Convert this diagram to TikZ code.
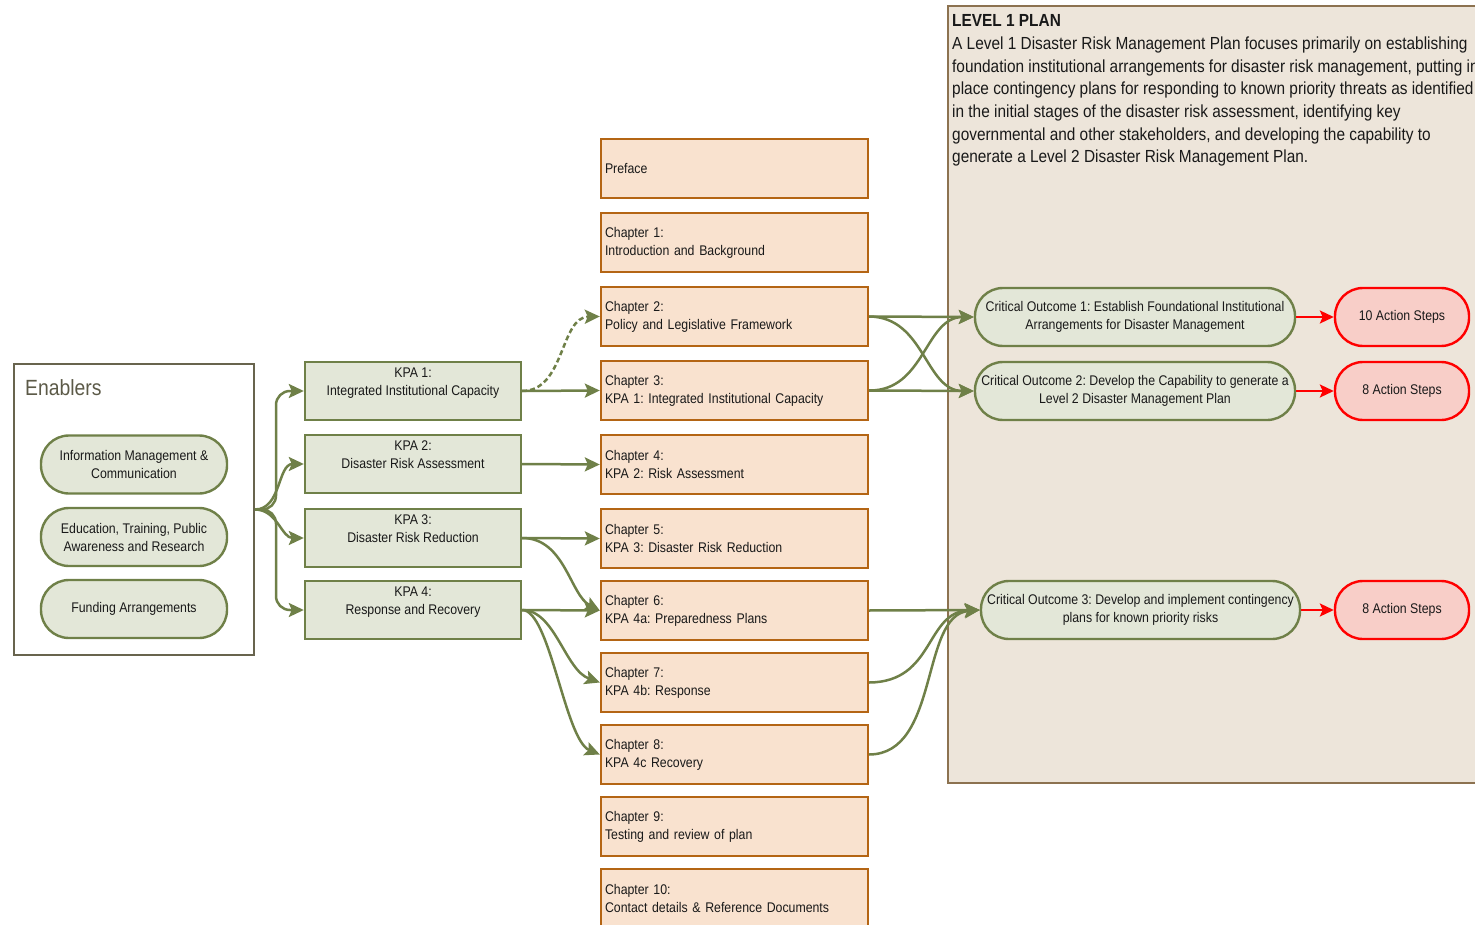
\documentclass[tikz,border=0pt]{standalone}
\usepackage{fontspec}
\setmainfont{Liberation Sans}[FakeStretch=0.88]
\usetikzlibrary{arrows.meta,calc}
\frenchspacing
\definecolor{gline}{RGB}{111,128,72}
\definecolor{sage}{RGB}{227,231,216}
\definecolor{peach}{RGB}{249,226,207}
\definecolor{chapline}{RGB}{180,101,20}
\definecolor{lvfill}{RGB}{237,229,218}
\definecolor{lvline}{RGB}{140,114,80}
\definecolor{enline}{RGB}{104,100,78}
\definecolor{entext}{RGB}{92,90,72}
\definecolor{actfill}{RGB}{248,206,200}
\definecolor{txt}{RGB}{25,25,25}
\begin{document}
\begin{tikzpicture}[x=1pt,y=-1pt,
 small/.style={font=\fontsize{14}{18}\selectfont, text=txt},
 chap/.style={small, rectangle, draw=chapline, fill=peach, line width=2.4pt, minimum height=59pt, text width=259pt, inner xsep=4pt, inner ysep=0pt, align=left},
 kpa/.style={small, rectangle, draw=gline, fill=sage, line width=2.4pt, minimum width=216pt, minimum height=58pt, inner sep=0pt, align=center},
 pill/.style={small, rectangle, rounded corners=28pt, draw=gline, fill=sage, line width=2.4pt, minimum height=58pt, inner sep=0pt, align=center},
 act/.style={small, rectangle, rounded corners=28pt, draw=red, fill=actfill, line width=2.4pt, minimum width=134pt, minimum height=58pt, inner sep=0pt, align=center},
 garrow/.style={draw=gline, line width=2.5pt, -{Stealth[length=15pt,width=14pt,inset=3pt]}},
 rarrow/.style={draw=red, line width=2.5pt, -{Stealth[length=14pt,width=13pt,inset=3pt]}},
]
\useasboundingbox (0,0) rectangle (1475,925);
\clip (0,0) rectangle (1475,925);

% Level 1 container
\node[draw=lvline, fill=lvfill, line width=2pt, minimum width=552pt, minimum height=777pt, inner sep=0pt] (level1) at (1224,394.5) {};
\node[anchor=north west, align=left, inner sep=0pt, text=txt, font=\fontsize{17.5}{22.7}\selectfont] (lvtext) at (952,14.5)
 {\textbf{LEVEL 1 PLAN}\\
 A Level 1 Disaster Risk Management Plan focuses primarily on establishing\\
 foundation institutional arrangements for disaster risk management, putting in\\
 place contingency plans for responding to known priority threats as identified\\
 in the initial stages of the disaster risk assessment, identifying key\\
 governmental and other stakeholders, and developing the capability to\\
 generate a Level 2 Disaster Risk Management Plan.};

% Enablers
\node[draw=enline, line width=2pt, minimum width=240pt, minimum height=291pt, inner sep=0pt] (enablers) at (134,509.5) {};
\node[anchor=west, inner sep=0pt, text=entext, font=\fontsize{22}{26}\selectfont] (entitle) at (25,388) {Enablers};
\node[pill, minimum width=186pt] (en1) at (134,464.5) {Information Management \&\\Communication};
\node[pill, minimum width=186pt] (en2) at (134,537) {Education, Training, Public\\Awareness and Research};
\node[pill, minimum width=186pt] (en3) at (134,609) {Funding Arrangements};

% KPAs
\node[kpa] (kpa1) at (413,391) {KPA 1:\\Integrated Institutional Capacity\\\mbox{}};
\node[kpa] (kpa2) at (413,464) {KPA 2:\\Disaster Risk Assessment\\\mbox{}};
\node[kpa] (kpa3) at (413,538) {KPA 3:\\Disaster Risk Reduction\\\mbox{}};
\node[kpa] (kpa4) at (413,610) {KPA 4:\\Response and Recovery\\\mbox{}};

% Chapters
\node[chap] (pre) at (734.5,168.5) {Preface};
\node[chap] (ch1) at (734.5,242.5) {Chapter 1:\\Introduction and Background};
\node[chap] (ch2) at (734.5,316.5) {Chapter 2:\\Policy and Legislative Framework};
\node[chap] (ch3) at (734.5,390.5) {Chapter 3:\\KPA 1: Integrated Institutional Capacity};
\node[chap] (ch4) at (734.5,464.5) {Chapter 4:\\KPA 2: Risk Assessment};
\node[chap] (ch5) at (734.5,538.5) {Chapter 5:\\KPA 3: Disaster Risk Reduction};
\node[chap] (ch6) at (734.5,610.5) {Chapter 6:\\KPA 4a: Preparedness Plans};
\node[chap] (ch7) at (734.5,682.5) {Chapter 7:\\KPA 4b: Response};
\node[chap] (ch8) at (734.5,754.5) {Chapter 8:\\KPA 4c Recovery};
\node[chap] (ch9) at (734.5,826.5) {Chapter 9:\\Testing and review of plan};
\node[chap] (ch10) at (734.5,898.5) {Chapter 10:\\Contact details \& Reference Documents};

% Critical outcomes
\node[pill, minimum width=320pt] (co1) at (1135,317) {Critical Outcome 1: Establish Foundational Institutional\\Arrangements for Disaster Management};
\node[pill, minimum width=320pt] (co2) at (1135,391) {Critical Outcome 2: Develop the Capability to generate a\\Level 2 Disaster Management Plan};
\node[pill, minimum width=319pt] (co3) at (1140.5,610) {Critical Outcome 3: Develop and implement contingency\\plans for known priority risks};

% Action steps
\node[act] (as1) at (1402,317) {10 Action Steps};
\node[act] (as2) at (1402,391) {8 Action Steps};
\node[act] (as3) at (1402,610) {8 Action Steps};

% Enablers -> KPAs
\draw[garrow, rounded corners=14pt] (enablers.east) -- ++(21,0) |- (kpa1.west);
\draw[garrow] (enablers.east) to[out=0,in=180] (kpa2.west);
\draw[garrow] (enablers.east) to[out=0,in=180] (kpa3.west);
\draw[garrow, rounded corners=14pt] (enablers.east) -- ++(21,0) |- (kpa4.west);

% KPAs -> chapters
\draw[garrow] (kpa1.east) -- (ch3.west);
\draw[garrow, dash pattern=on 5pt off 3pt] (kpa1.east) .. controls (565,391) and (560,317) .. (ch2.west);
\draw[garrow] (kpa2.east) -- (ch4.west);
\draw[garrow] (kpa3.east) -- (ch5.west);
\draw[garrow] (kpa3.east) .. controls (565,538) and (570,595) .. (ch6.west);
\draw[garrow] (kpa4.east) -- (ch6.west);
\draw[garrow] (kpa4.east) .. controls (555,610) and (565,670) .. (ch7.west);
\draw[garrow] (kpa4.east) .. controls (550,610) and (565,740) .. (ch8.west);

% Chapters -> critical outcomes
\draw[garrow] (ch2.east) -- (co1.west);
\draw[garrow] (ch2.east) .. controls (925,317) and (925,391) .. (co2.west);
\draw[garrow] (ch3.east) -- (co2.west);
\draw[garrow] (ch3.east) .. controls (925,391) and (925,317) .. (co1.west);
\draw[garrow] (ch6.east) -- (co3.west);
\draw[garrow] (ch7.east) .. controls (935,682) and (925,612) .. (co3.west);
\draw[garrow] (ch8.east) .. controls (940,754) and (920,615) .. (co3.west);

% Critical outcomes -> action steps
\draw[rarrow] (co1.east) -- (as1.west);
\draw[rarrow] (co2.east) -- (as2.west);
\draw[rarrow] (co3.east) -- (as3.west);
\end{tikzpicture}
\end{document}
